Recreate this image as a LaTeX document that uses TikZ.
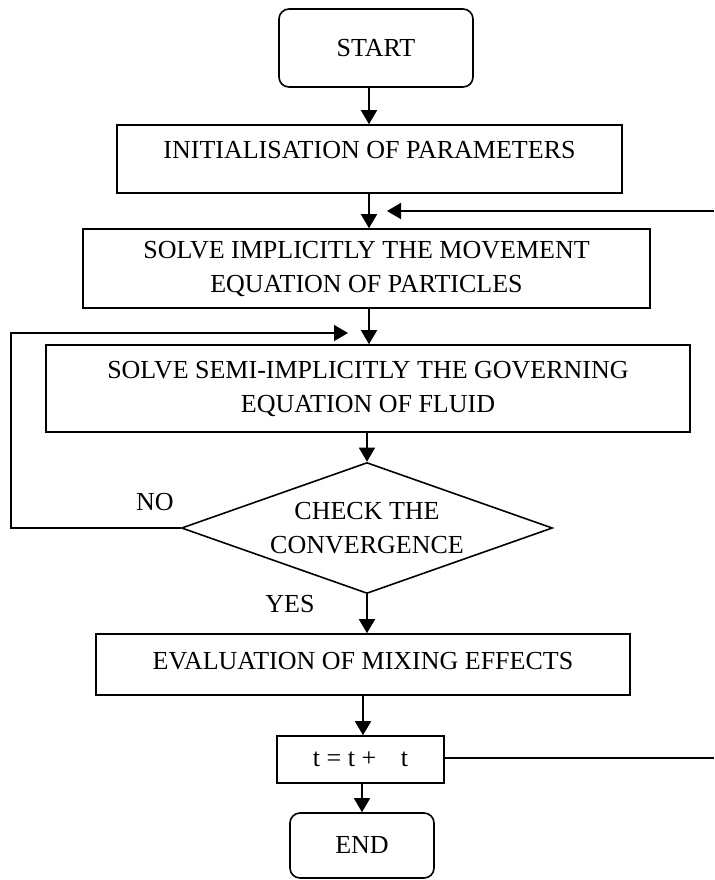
\documentclass[tikz,border=0pt]{standalone}
\usepackage{fontspec}
\setmainfont{Liberation Serif}
\usetikzlibrary{shapes.geometric,arrows.meta}

\tikzset{
  box/.style={draw,line width=0.8pt,inner sep=0pt,align=center},
  term/.style={box,rounded corners=5pt},
  test/.style={draw,line width=0.8pt,diamond,aspect=2.8,inner sep=0pt,align=center},
  flow/.style={line width=0.8pt,-{Triangle[width=8pt,length=7pt]}},
  link/.style={line width=0.8pt}
}

\begin{document}
\begin{tikzpicture}[x=0.5pt,y=-0.5pt,font=\fontsize{13}{17}\selectfont]
            \useasboundingbox (0,0) rectangle (714,880);
            \coordinate (axis) at (369,0);

            \node[term,minimum width=97pt,minimum height=39pt] (start) at (376,48){START};
            \node[box,minimum width=252.5pt,minimum height=34pt,text depth=9pt] (init) at (369.5,159){INITIALISATION OF PARAMETERS};
            \node[box,minimum width=283.5pt,minimum height=39.5pt] (impl) at (366.5,268.5){SOLVE IMPLICITLY THE MOVEMENT\\EQUATION OF PARTICLES};
            \node[box,minimum width=322pt,minimum height=43.5pt] (semi) at (368,388.5){SOLVE SEMI-IMPLICITLY THE GOVERNING\\EQUATION OF FLUID};
            \node[test,minimum width=185.5pt,minimum height=65.5pt] (check) at (367,528){CHECK THE\\CONVERGENCE};
            \node[box,minimum width=267pt,minimum height=30.5pt,text depth=4pt] (eval) at (363,664.5){EVALUATION OF MIXING EFFECTS};
            \node[box,minimum width=83.5pt,minimum height=23.5pt] (tstep) at (360.5,759.5){t = t + \hspace{0.7em}t};
            \node[term,minimum width=72pt,minimum height=32.5pt] (end) at (362,845.5){END};

            \node (no) at (155,502){NO};
            \node (yes) at (290,604){YES};

            % main flow
            \draw[flow] (start.south -| axis) -- (init.north -| axis);
            \draw[flow] (init.south -| axis) -- (impl.north -| axis);
            \draw[flow] (impl.south -| axis) -- (semi.north -| axis);
            \draw[flow] (semi.south -| check.north) -- (check.north);
            \draw[flow] (check.south) -- (check.south |- eval.north);
            \draw[flow] (eval.south) -- (eval.south |- tstep.north);
            \draw[flow] (tstep.south -| end.north) -- (end.north);

            % loops
            \coordinate (loop) at (11,333);
            \coordinate (loopend) at (348,333);
            \draw[flow] (check.west) -| (loop) -- (loopend);

            \coordinate (back) at (714,758);
            \coordinate (backtop) at (714,211);
            \coordinate (backend) at (387,211);
            \draw[link] (tstep.east |- back) -- (back);
            \draw[flow] (backtop) -- (backend);
\end{tikzpicture}
\end{document}
